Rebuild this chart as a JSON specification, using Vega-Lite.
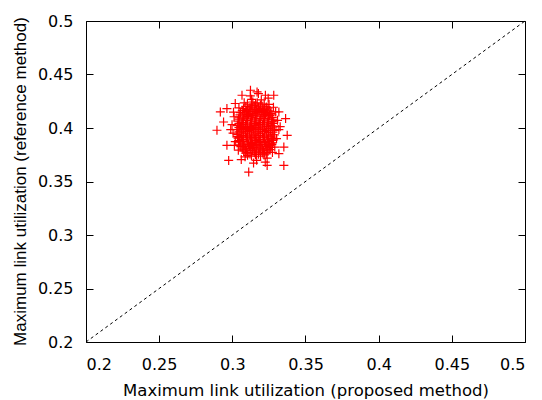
{
  "$schema": "https://vega.github.io/schema/vega-lite/v6.json",
  "width": 439,
  "height": 321,
  "autosize": "none",
  "padding": {"left": 86, "top": 21, "right": 17, "bottom": 58},
  "config": {
    "view": {"stroke": null},
    "font": "DejaVu Sans",
    "axis": {
      "grid": false,
      "domainColor": "#000000",
      "domainWidth": 1,
      "tickColor": "#000000",
      "tickWidth": 1,
      "tickSize": -7,
      "labelFont": "DejaVu Sans",
      "labelFontSize": 16,
      "labelColor": "#000000",
      "labelPadding": 20,
      "titleFont": "DejaVu Sans",
      "titleFontSize": 16.5,
      "titleFontWeight": "normal",
      "titleColor": "#000000"
    }
  },
  "layer": [
    {
      "data": {"values": [
        {"proposed": 0.3104, "reference": 0.3745}, {"proposed": 0.3131, "reference": 0.3738}, {"proposed": 0.3158, "reference": 0.3751}, {"proposed": 0.3193, "reference": 0.3736}, {"proposed": 0.3217, "reference": 0.3748},
        {"proposed": 0.3078, "reference": 0.3783}, {"proposed": 0.3106, "reference": 0.3772}, {"proposed": 0.3137, "reference": 0.3788}, {"proposed": 0.3164, "reference": 0.3775}, {"proposed": 0.3192, "reference": 0.3784}, {"proposed": 0.3221, "reference": 0.3771}, {"proposed": 0.3243, "reference": 0.3786},
        {"proposed": 0.3058, "reference": 0.3826}, {"proposed": 0.3089, "reference": 0.3814}, {"proposed": 0.3117, "reference": 0.3829}, {"proposed": 0.3148, "reference": 0.3818}, {"proposed": 0.3176, "reference": 0.3832}, {"proposed": 0.3205, "reference": 0.3815}, {"proposed": 0.3232, "reference": 0.3827}, {"proposed": 0.3261, "reference": 0.3819},
        {"proposed": 0.3047, "reference": 0.3862}, {"proposed": 0.3076, "reference": 0.3851}, {"proposed": 0.3105, "reference": 0.3867}, {"proposed": 0.3134, "reference": 0.3855}, {"proposed": 0.3163, "reference": 0.3864}, {"proposed": 0.3192, "reference": 0.3849}, {"proposed": 0.3221, "reference": 0.3866}, {"proposed": 0.3249, "reference": 0.3853}, {"proposed": 0.3274, "reference": 0.3861},
        {"proposed": 0.3039, "reference": 0.3905}, {"proposed": 0.3067, "reference": 0.3893}, {"proposed": 0.3096, "reference": 0.3908}, {"proposed": 0.3125, "reference": 0.3896}, {"proposed": 0.3154, "reference": 0.3904}, {"proposed": 0.3183, "reference": 0.3891}, {"proposed": 0.3212, "reference": 0.3907}, {"proposed": 0.3241, "reference": 0.3895}, {"proposed": 0.3269, "reference": 0.3903}, {"proposed": 0.3282, "reference": 0.3889},
        {"proposed": 0.3033, "reference": 0.3941}, {"proposed": 0.3061, "reference": 0.3932}, {"proposed": 0.3090, "reference": 0.3946}, {"proposed": 0.3119, "reference": 0.3934}, {"proposed": 0.3148, "reference": 0.3943}, {"proposed": 0.3177, "reference": 0.3929}, {"proposed": 0.3206, "reference": 0.3945}, {"proposed": 0.3235, "reference": 0.3933}, {"proposed": 0.3263, "reference": 0.3942}, {"proposed": 0.3287, "reference": 0.3936},
        {"proposed": 0.3031, "reference": 0.3984}, {"proposed": 0.3059, "reference": 0.3973}, {"proposed": 0.3088, "reference": 0.3987}, {"proposed": 0.3117, "reference": 0.3976}, {"proposed": 0.3146, "reference": 0.3985}, {"proposed": 0.3175, "reference": 0.3972}, {"proposed": 0.3204, "reference": 0.3988}, {"proposed": 0.3233, "reference": 0.3975}, {"proposed": 0.3262, "reference": 0.3983}, {"proposed": 0.3289, "reference": 0.3977},
        {"proposed": 0.3034, "reference": 0.4022}, {"proposed": 0.3062, "reference": 0.4013}, {"proposed": 0.3091, "reference": 0.4027}, {"proposed": 0.3120, "reference": 0.4015}, {"proposed": 0.3149, "reference": 0.4024}, {"proposed": 0.3178, "reference": 0.4011}, {"proposed": 0.3207, "reference": 0.4026}, {"proposed": 0.3236, "reference": 0.4014}, {"proposed": 0.3264, "reference": 0.4023}, {"proposed": 0.3286, "reference": 0.4017},
        {"proposed": 0.3038, "reference": 0.4065}, {"proposed": 0.3066, "reference": 0.4053}, {"proposed": 0.3095, "reference": 0.4068}, {"proposed": 0.3124, "reference": 0.4056}, {"proposed": 0.3153, "reference": 0.4064}, {"proposed": 0.3182, "reference": 0.4051}, {"proposed": 0.3211, "reference": 0.4067}, {"proposed": 0.3240, "reference": 0.4055}, {"proposed": 0.3268, "reference": 0.4063}, {"proposed": 0.3283, "reference": 0.4058},
        {"proposed": 0.3046, "reference": 0.4101}, {"proposed": 0.3075, "reference": 0.4092}, {"proposed": 0.3104, "reference": 0.4106}, {"proposed": 0.3133, "reference": 0.4094}, {"proposed": 0.3162, "reference": 0.4103}, {"proposed": 0.3191, "reference": 0.4089}, {"proposed": 0.3220, "reference": 0.4105}, {"proposed": 0.3248, "reference": 0.4093}, {"proposed": 0.3273, "reference": 0.4099},
        {"proposed": 0.3056, "reference": 0.4144}, {"proposed": 0.3088, "reference": 0.4133}, {"proposed": 0.3116, "reference": 0.4147}, {"proposed": 0.3147, "reference": 0.4135}, {"proposed": 0.3175, "reference": 0.4146}, {"proposed": 0.3204, "reference": 0.4132}, {"proposed": 0.3231, "reference": 0.4145}, {"proposed": 0.3262, "reference": 0.4136},
        {"proposed": 0.3077, "reference": 0.4181}, {"proposed": 0.3105, "reference": 0.4172}, {"proposed": 0.3136, "reference": 0.4186}, {"proposed": 0.3165, "reference": 0.4174}, {"proposed": 0.3193, "reference": 0.4183}, {"proposed": 0.3220, "reference": 0.4171}, {"proposed": 0.3244, "reference": 0.4185},
        {"proposed": 0.3103, "reference": 0.4222}, {"proposed": 0.3130, "reference": 0.4213}, {"proposed": 0.3159, "reference": 0.4226}, {"proposed": 0.3192, "reference": 0.4215}, {"proposed": 0.3218, "reference": 0.4224},
        {"proposed": 0.3092, "reference": 0.3764}, {"proposed": 0.3121, "reference": 0.3757}, {"proposed": 0.3150, "reference": 0.3768}, {"proposed": 0.3179, "reference": 0.3755}, {"proposed": 0.3208, "reference": 0.3766}, {"proposed": 0.3232, "reference": 0.3758},
        {"proposed": 0.3068, "reference": 0.3803}, {"proposed": 0.3097, "reference": 0.3795}, {"proposed": 0.3126, "reference": 0.3807}, {"proposed": 0.3155, "reference": 0.3796}, {"proposed": 0.3184, "reference": 0.3805}, {"proposed": 0.3213, "reference": 0.3793}, {"proposed": 0.3242, "reference": 0.3806}, {"proposed": 0.3256, "reference": 0.3798},
        {"proposed": 0.3052, "reference": 0.3843}, {"proposed": 0.3081, "reference": 0.3834}, {"proposed": 0.3110, "reference": 0.3846}, {"proposed": 0.3139, "reference": 0.3836}, {"proposed": 0.3168, "reference": 0.3845}, {"proposed": 0.3197, "reference": 0.3833}, {"proposed": 0.3226, "reference": 0.3847}, {"proposed": 0.3255, "reference": 0.3835}, {"proposed": 0.3270, "reference": 0.3844},
        {"proposed": 0.3043, "reference": 0.3883}, {"proposed": 0.3072, "reference": 0.3874}, {"proposed": 0.3101, "reference": 0.3886}, {"proposed": 0.3130, "reference": 0.3876}, {"proposed": 0.3159, "reference": 0.3885}, {"proposed": 0.3188, "reference": 0.3873}, {"proposed": 0.3217, "reference": 0.3887}, {"proposed": 0.3246, "reference": 0.3875}, {"proposed": 0.3275, "reference": 0.3884},
        {"proposed": 0.3035, "reference": 0.3922}, {"proposed": 0.3046, "reference": 0.3913}, {"proposed": 0.3075, "reference": 0.3925}, {"proposed": 0.3104, "reference": 0.3915}, {"proposed": 0.3133, "reference": 0.3924}, {"proposed": 0.3162, "reference": 0.3912}, {"proposed": 0.3191, "reference": 0.3926}, {"proposed": 0.3220, "reference": 0.3914}, {"proposed": 0.3249, "reference": 0.3923}, {"proposed": 0.3278, "reference": 0.3916},
        {"proposed": 0.3045, "reference": 0.3963}, {"proposed": 0.3074, "reference": 0.3954}, {"proposed": 0.3103, "reference": 0.3966}, {"proposed": 0.3132, "reference": 0.3955}, {"proposed": 0.3161, "reference": 0.3964}, {"proposed": 0.3190, "reference": 0.3953}, {"proposed": 0.3219, "reference": 0.3967}, {"proposed": 0.3248, "reference": 0.3956}, {"proposed": 0.3277, "reference": 0.3962},
        {"proposed": 0.3045, "reference": 0.4003}, {"proposed": 0.3074, "reference": 0.3994}, {"proposed": 0.3103, "reference": 0.4006}, {"proposed": 0.3132, "reference": 0.3995}, {"proposed": 0.3161, "reference": 0.4004}, {"proposed": 0.3190, "reference": 0.3993}, {"proposed": 0.3219, "reference": 0.4007}, {"proposed": 0.3248, "reference": 0.3996}, {"proposed": 0.3277, "reference": 0.4002},
        {"proposed": 0.3045, "reference": 0.4043}, {"proposed": 0.3074, "reference": 0.4034}, {"proposed": 0.3103, "reference": 0.4046}, {"proposed": 0.3132, "reference": 0.4035}, {"proposed": 0.3161, "reference": 0.4044}, {"proposed": 0.3190, "reference": 0.4033}, {"proposed": 0.3219, "reference": 0.4047}, {"proposed": 0.3248, "reference": 0.4036}, {"proposed": 0.3277, "reference": 0.4042},
        {"proposed": 0.3043, "reference": 0.4083}, {"proposed": 0.3072, "reference": 0.4074}, {"proposed": 0.3101, "reference": 0.4086}, {"proposed": 0.3130, "reference": 0.4075}, {"proposed": 0.3159, "reference": 0.4084}, {"proposed": 0.3188, "reference": 0.4073}, {"proposed": 0.3217, "reference": 0.4087}, {"proposed": 0.3246, "reference": 0.4076}, {"proposed": 0.3275, "reference": 0.4082},
        {"proposed": 0.3052, "reference": 0.4123}, {"proposed": 0.3081, "reference": 0.4114}, {"proposed": 0.3110, "reference": 0.4126}, {"proposed": 0.3139, "reference": 0.4115}, {"proposed": 0.3168, "reference": 0.4124}, {"proposed": 0.3197, "reference": 0.4113}, {"proposed": 0.3226, "reference": 0.4127}, {"proposed": 0.3255, "reference": 0.4116}, {"proposed": 0.3270, "reference": 0.4122},
        {"proposed": 0.3068, "reference": 0.4163}, {"proposed": 0.3097, "reference": 0.4154}, {"proposed": 0.3126, "reference": 0.4166}, {"proposed": 0.3155, "reference": 0.4155}, {"proposed": 0.3184, "reference": 0.4164}, {"proposed": 0.3213, "reference": 0.4153}, {"proposed": 0.3242, "reference": 0.4167}, {"proposed": 0.3256, "reference": 0.4158},
        {"proposed": 0.3092, "reference": 0.4203}, {"proposed": 0.3121, "reference": 0.4194}, {"proposed": 0.3150, "reference": 0.4206}, {"proposed": 0.3179, "reference": 0.4195}, {"proposed": 0.3208, "reference": 0.4204}, {"proposed": 0.3232, "reference": 0.4197},
        {"proposed": 0.3140, "reference": 0.4243}, {"proposed": 0.3170, "reference": 0.4236},
        {"proposed": 0.3005, "reference": 0.3952}, {"proposed": 0.2998, "reference": 0.4031}, {"proposed": 0.3012, "reference": 0.4105}, {"proposed": 0.3020, "reference": 0.3872}, {"proposed": 0.3318, "reference": 0.3985}, {"proposed": 0.3309, "reference": 0.4072},
        {"proposed": 0.3302, "reference": 0.3901}, {"proposed": 0.3296, "reference": 0.4151}, {"proposed": 0.3290, "reference": 0.3822}, {"proposed": 0.3045, "reference": 0.4188}, {"proposed": 0.3081, "reference": 0.4235}, {"proposed": 0.3132, "reference": 0.4268},
        {"proposed": 0.3198, "reference": 0.4262}, {"proposed": 0.3251, "reference": 0.4221}, {"proposed": 0.3274, "reference": 0.3772}, {"proposed": 0.3238, "reference": 0.3718}, {"proposed": 0.3166, "reference": 0.3698}, {"proposed": 0.3087, "reference": 0.3731},
        {"proposed": 0.3041, "reference": 0.3793}, {"proposed": 0.3014, "reference": 0.3838}, {"proposed": 0.3123, "reference": 0.4301}, {"proposed": 0.3178, "reference": 0.4322}, {"proposed": 0.3245, "reference": 0.4279}, {"proposed": 0.3061, "reference": 0.3705},
        {"proposed": 0.3225, "reference": 0.3681}, {"proposed": 0.3145, "reference": 0.3672}, {"proposed": 0.3281, "reference": 0.4194}, {"proposed": 0.3008, "reference": 0.4148}, {"proposed": 0.3327, "reference": 0.4012}, {"proposed": 0.2989, "reference": 0.3985},
        {"proposed": 0.3124, "reference": 0.4353}, {"proposed": 0.3169, "reference": 0.4337}, {"proposed": 0.3283, "reference": 0.4306}, {"proposed": 0.2918, "reference": 0.4150}, {"proposed": 0.2963, "reference": 0.4182}, {"proposed": 0.2895, "reference": 0.3979},
        {"proposed": 0.2940, "reference": 0.4056}, {"proposed": 0.3364, "reference": 0.4088}, {"proposed": 0.3375, "reference": 0.3932}, {"proposed": 0.3352, "reference": 0.3822}, {"proposed": 0.3352, "reference": 0.3650}, {"proposed": 0.3112, "reference": 0.3588},
        {"proposed": 0.2975, "reference": 0.3697}, {"proposed": 0.2963, "reference": 0.3838}, {"proposed": 0.3238, "reference": 0.3650}, {"proposed": 0.3318, "reference": 0.3760}, {"proposed": 0.3318, "reference": 0.4150}, {"proposed": 0.3066, "reference": 0.4306},
        {"proposed": 0.3226, "reference": 0.4306}, {"proposed": 0.3020, "reference": 0.4229}
      ]},
      "mark": {"type": "point", "shape": "M-1,0H1M0,-1V1", "size": 81, "filled": false, "stroke": "#ff0000", "strokeWidth": 1.2, "opacity": 1},
      "encoding": {
        "x": {"field": "proposed", "type": "quantitative",
              "scale": {"domain": [0.2, 0.5], "nice": false, "zero": false},
              "axis": {"orient": "bottom", "values": [0.2, 0.25, 0.3, 0.35, 0.4, 0.45, 0.5], "format": "~g", "labelPadding": 21,
                       "title": "Maximum link utilization (proposed method)", "titleBaseline": "alphabetic", "titleY": 53}},
        "y": {"field": "reference", "type": "quantitative",
              "scale": {"domain": [0.2, 0.5], "nice": false, "zero": false},
              "axis": {"orient": "left", "values": [0.2, 0.25, 0.3, 0.35, 0.4, 0.45, 0.5], "format": "~g",
                       "title": "Maximum link utilization (reference method)", "titleFont": "Liberation Sans", "titleFontSize": 17,
                       "titleBaseline": "alphabetic", "titleX": -61, "titleY": 160, "titleAngle": 270, "titleAlign": "center"}}
      }
    },
    {
      "data": {"values": [{"proposed": 0.2, "reference": 0.2}, {"proposed": 0.5, "reference": 0.5}]},
      "mark": {"type": "line", "stroke": "#000000", "strokeWidth": 1, "strokeDash": [3, 3]},
      "encoding": {
        "x": {"field": "proposed", "type": "quantitative",
              "scale": {"domain": [0.2, 0.5], "nice": false, "zero": false},
              "axis": {"orient": "top", "values": [0.2, 0.25, 0.3, 0.35, 0.4, 0.45, 0.5], "labels": false, "title": null}},
        "y": {"field": "reference", "type": "quantitative",
              "scale": {"domain": [0.2, 0.5], "nice": false, "zero": false},
              "axis": {"orient": "right", "values": [0.2, 0.25, 0.3, 0.35, 0.4, 0.45, 0.5], "labels": false, "title": null}}
      }
    }
  ],
  "resolve": {"axis": {"x": "independent", "y": "independent"}}
}
